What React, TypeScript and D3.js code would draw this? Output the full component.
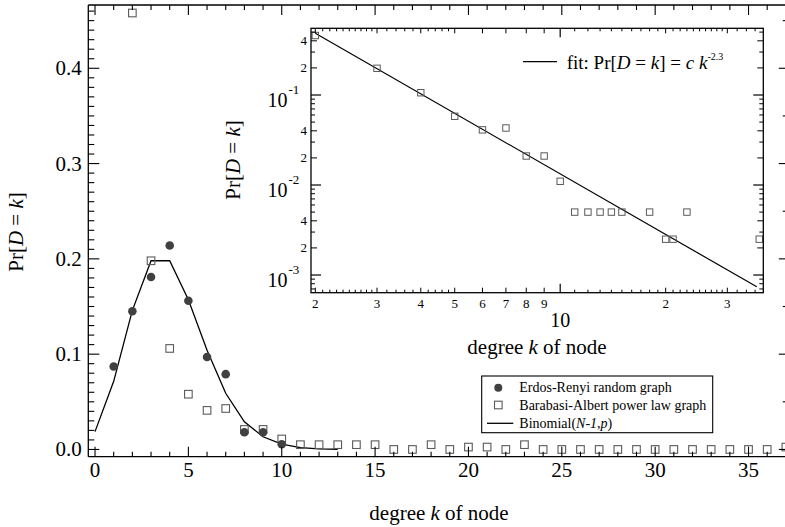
import React from "react";
import * as d3 from "d3";

// ---------- data ----------
const erK = [1, 2, 3, 4, 5, 6, 7, 8, 9, 10];
const erP = [0.087, 0.145, 0.181, 0.214, 0.156, 0.097, 0.079, 0.018, 0.018, 0.0055];

const baK = [2, 3, 4, 5, 6, 7, 8, 9, 10, 11, 12, 13, 14, 15, 16, 17, 18, 19, 20, 21, 22, 23, 24, 25, 26, 27, 28, 29, 30, 31, 32, 33, 34, 35, 36, 37];
const baP = [0.458, 0.198, 0.106, 0.058, 0.041, 0.043, 0.021, 0.021, 0.011, 0.005, 0.005, 0.005, 0.005, 0.005, 0, 0, 0.005, 0, 0.0025, 0.0025, 0, 0.005, 0, 0, 0, 0, 0, 0, 0, 0, 0, 0, 0, 0, 0, 0.0025];

const binK = [0, 1, 2, 3, 4, 5, 6, 7, 8, 9, 10, 11, 12, 13];
const binP = [0.0187, 0.0715, 0.146, 0.198, 0.198, 0.157, 0.104, 0.059, 0.029, 0.0133, 0.0055, 0.0019, 0.0006, 0.0002];

const fitK = [2, 36.4];
const fitP = [0.485, 0.00074];

const xTickVals = [0, 5, 10, 15, 20, 25, 30, 35];
const yTickVals = [0, 0.1, 0.2, 0.3, 0.4];
const yTickLabels = ["0.0", "0.1", "0.2", "0.3", "0.4"];

const inXLabelVals = [2, 3, 4, 5, 6, 7, 8, 9, 20, 30];
const inXLabels = ["2", "3", "4", "5", "6", "7", "8", "9", "2", "3"];
const inYLabelVals = [0.4, 0.2, 0.04, 0.02, 0.004, 0.002];
const inYLabels = ["4", "2", "4", "2", "4", "2"];
const inYDecades = [0.1, 0.01, 0.001];
const inYDecadeExp = ["-1", "-2", "-3"];

const legendLabels = ["Erdos-Renyi random graph", "Barabasi-Albert power law graph"];

const FONT = "'Liberation Serif', 'Times New Roman', Times, serif";

export default function App() {
  // main frame
  const L = 88.3, T = 5, R = 786.8, B = 456.7;
  const x = d3.scaleLinear().domain([-0.36, 37.05]).range([L, R]);
  const y = d3.scaleLinear().domain([-0.0076, 0.4664]).range([B, T]);

  // inset frame
  const iL = 311, iT = 28.3, iR = 763.3, iB = 292.7;
  const xi = d3.scaleLog().domain([1.944, 38.0]).range([iL, iR]);
  const yi = d3.scaleLog().domain([6.36e-4, 0.551]).range([iB, iT]);

  const binLine = d3.line<number>().x((_, i) => x(binK[i])).y((d) => y(d))(binP) as string;
  const fitLine = d3.line<number>().x((_, i) => xi(fitK[i])).y((d) => yi(d))(fitP) as string;

  const ink = "#000";
  const sw = 1.3;

  // main ticks
  const xMinor = d3.range(0, 38, 1);
  const yMinor = d3.range(0, 47).map((i) => i / 100);

  // inset ticks
  const inXMinor = [
    ...d3.range(21, 30).map((v) => v / 10),
    3.2, 3.4, 3.6, 3.8, 4.2, 4.4, 4.6, 4.8,
    ...d3.range(11, 20),
    ...d3.range(21, 30),
    32, 34, 36,
  ];
  const inYMinor: number[] = [];
  [0.1, 0.01, 0.001, 0.0001].forEach((dec) => {
    [3, 5, 6, 7, 8, 9].forEach((m) => {
      const v = m * dec;
      if (v >= 6.36e-4 && v <= 0.551) inYMinor.push(v);
    });
  });

  const baPos = baK.map((k, i) => ({ k, p: baP[i] }));
  const baInset = baPos.filter((d) => d.p > 0);

  return (
    <svg
      width={785}
      height={527}
      style={{ position: "absolute", left: 0, top: 0, background: "#fff" }}
      fontFamily={FONT}
    >
      <rect x={0} y={0} width={785} height={527} fill="#fff" />

      {/* ---------- main data ---------- */}
      <path d={binLine} fill="none" stroke={ink} strokeWidth={1.3} />
      {baPos.map((d, i) => (
        <rect
          key={"ba" + i}
          x={x(d.k) - 3.8}
          y={y(d.p) - 3.8}
          width={7.6}
          height={7.6}
          fill="none"
          stroke="#5a5a5a"
          strokeWidth={1.1}
        />
      ))}
      {erK.map((k, i) => (
        <circle key={"er" + i} cx={x(k)} cy={y(erP[i])} r={4.3} fill="#404040" />
      ))}

      {/* ---------- main axes ---------- */}
      <line x1={L} y1={T} x2={R} y2={T} stroke={ink} strokeWidth={sw} />
      <line x1={L} y1={B} x2={R} y2={B} stroke={ink} strokeWidth={sw} />
      <line x1={L} y1={T} x2={L} y2={B} stroke={ink} strokeWidth={sw} />
      <line x1={R} y1={T} x2={R} y2={B} stroke={ink} strokeWidth={sw} />
      {xMinor.map((v) => {
        const len = v % 5 === 0 ? 10 : 5;
        return (
          <g key={"xt" + v}>
            <line x1={x(v)} x2={x(v)} y1={T} y2={T + len} stroke={ink} strokeWidth={1.1} />
            <line x1={x(v)} x2={x(v)} y1={B} y2={B - len} stroke={ink} strokeWidth={1.1} />
          </g>
        );
      })}
      {yMinor.map((v, i) => {
        const major = i % 10 === 0;
        const mid = i % 5 === 0;
        return (
          <g key={"yt" + i}>
            <line x1={L} x2={L + (major ? 11 : 6)} y1={y(v)} y2={y(v)} stroke={ink} strokeWidth={1.1} />
            {mid && (
              <line x1={R} x2={R - (major ? 8 : 4)} y1={y(v)} y2={y(v)} stroke={ink} strokeWidth={1.1} />
            )}
          </g>
        );
      })}
      {xTickVals.map((v) => (
        <text key={"xl" + v} x={x(v)} y={470} fontSize={21} textAnchor="middle" dominantBaseline="central">
          {v}
        </text>
      ))}
      {yTickVals.map((v, i) => (
        <text key={"yl" + i} x={81.7} y={y(v)} fontSize={21} textAnchor="end" dominantBaseline="central">
          {yTickLabels[i]}
        </text>
      ))}
      <text x={439} y={513} fontSize={21} textAnchor="middle" dominantBaseline="central">
        degree <tspan fontStyle="italic">k</tspan> of node
      </text>
      <text
        transform="translate(16,232) rotate(-90)"
        fontSize={21}
        textAnchor="middle"
        dominantBaseline="central"
      >
        Pr[<tspan fontStyle="italic">D</tspan> = <tspan fontStyle="italic">k</tspan>]
      </text>

      {/* ---------- legend ---------- */}
      <rect x={481.7} y={376} width={231} height={56.7} fill="#fff" stroke={ink} strokeWidth={1.1} />
      <circle cx={498.3} cy={387.7} r={4} fill="#404040" />
      <rect x={498.3 - 3.8} y={405 - 3.8} width={7.6} height={7.6} fill="none" stroke="#5a5a5a" strokeWidth={1.1} />
      <line x1={487} x2={513.3} y1={423.3} y2={423.3} stroke={ink} strokeWidth={1.3} />
      <text x={519.3} y={387.7} fontSize={14} dominantBaseline="central">{legendLabels[0]}</text>
      <text x={519.3} y={405} fontSize={14} dominantBaseline="central">{legendLabels[1]}</text>
      <text x={519.3} y={423.3} fontSize={14} dominantBaseline="central">
        Binomial(<tspan fontStyle="italic">N-1</tspan>,<tspan fontStyle="italic">p</tspan>)
      </text>

      {/* ---------- inset ---------- */}
      <rect x={iL} y={iT} width={iR - iL} height={iB - iT} fill="#fff" stroke="none" />
      <path d={fitLine} fill="none" stroke={ink} strokeWidth={1.2} />
      {baInset.map((d, i) => (
        <rect
          key={"bi" + i}
          x={xi(d.k) - 3.2}
          y={yi(d.p) - 3.2}
          width={6.4}
          height={6.4}
          fill="none"
          stroke="#5a5a5a"
          strokeWidth={1}
        />
      ))}
      <rect x={iL} y={iT} width={iR - iL} height={iB - iT} fill="none" stroke={ink} strokeWidth={sw} />
      {/* inset x ticks */}
      {inXMinor.map((v, i) => (
        <g key={"ixm" + i}>
          <line x1={xi(v)} x2={xi(v)} y1={iB} y2={iB - 3} stroke={ink} strokeWidth={1} />
          <line x1={xi(v)} x2={xi(v)} y1={iT} y2={iT + 3} stroke={ink} strokeWidth={1} />
        </g>
      ))}
      {inXLabelVals.map((v, i) => (
        <g key={"ixl" + i}>
          <line x1={xi(v)} x2={xi(v)} y1={iB} y2={iB - 5} stroke={ink} strokeWidth={1} />
          <line x1={xi(v)} x2={xi(v)} y1={iT} y2={iT + 5} stroke={ink} strokeWidth={1} />
          <text x={xi(v)} y={303.3} fontSize={13} textAnchor="middle" dominantBaseline="central">
            {inXLabels[i]}
          </text>
        </g>
      ))}
      <line x1={xi(10)} x2={xi(10)} y1={iB} y2={iB - 9} stroke={ink} strokeWidth={1.2} />
      <line x1={xi(10)} x2={xi(10)} y1={iT} y2={iT + 9} stroke={ink} strokeWidth={1.2} />
      <text x={xi(10)} y={320} fontSize={20} textAnchor="middle" dominantBaseline="central">10</text>
      <text x={537} y={346.7} fontSize={21} textAnchor="middle" dominantBaseline="central">
        degree <tspan fontStyle="italic">k</tspan> of node
      </text>
      {/* inset y ticks */}
      {inYMinor.map((v, i) => (
        <g key={"iym" + i}>
          <line x1={iL} x2={iL + 4} y1={yi(v)} y2={yi(v)} stroke={ink} strokeWidth={1} />
          <line x1={iR} x2={iR - 4} y1={yi(v)} y2={yi(v)} stroke={ink} strokeWidth={1} />
        </g>
      ))}
      {inYLabelVals.map((v, i) => (
        <g key={"iyl" + i}>
          <line x1={iL} x2={iL + 6} y1={yi(v)} y2={yi(v)} stroke={ink} strokeWidth={1} />
          <line x1={iR} x2={iR - 6} y1={yi(v)} y2={yi(v)} stroke={ink} strokeWidth={1} />
          <text x={307} y={yi(v)} fontSize={13} textAnchor="end" dominantBaseline="central">
            {inYLabels[i]}
          </text>
        </g>
      ))}
      {inYDecades.map((v, i) => (
        <g key={"iyd" + i}>
          <line x1={iL} x2={iL + 10} y1={yi(v)} y2={yi(v)} stroke={ink} strokeWidth={1.2} />
          <line x1={iR} x2={iR - 10} y1={yi(v)} y2={yi(v)} stroke={ink} strokeWidth={1.2} />
          <text x={287.5} y={yi(v) + 12} fontSize={20} textAnchor="end">10</text>
          <text x={288.5} y={yi(v) - 1} fontSize={13}>{inYDecadeExp[i]}</text>
        </g>
      ))}
      <text
        transform="translate(233,160) rotate(-90)"
        fontSize={21}
        textAnchor="middle"
        dominantBaseline="central"
      >
        Pr[<tspan fontStyle="italic">D</tspan> = <tspan fontStyle="italic">k</tspan>]
      </text>
      {/* inset legend */}
      <line x1={523} x2={557} y1={61.7} y2={61.7} stroke={ink} strokeWidth={1.2} />
      <text x={566.7} y={68.5} fontSize={19}>
        fit: Pr[<tspan fontStyle="italic">D</tspan> = <tspan fontStyle="italic">k</tspan>] ={" "}
        <tspan fontStyle="italic">c</tspan> <tspan fontStyle="italic">k</tspan>
        <tspan fontSize={10} dy={-9}>-2.3</tspan>
      </text>
    </svg>
  );
}
